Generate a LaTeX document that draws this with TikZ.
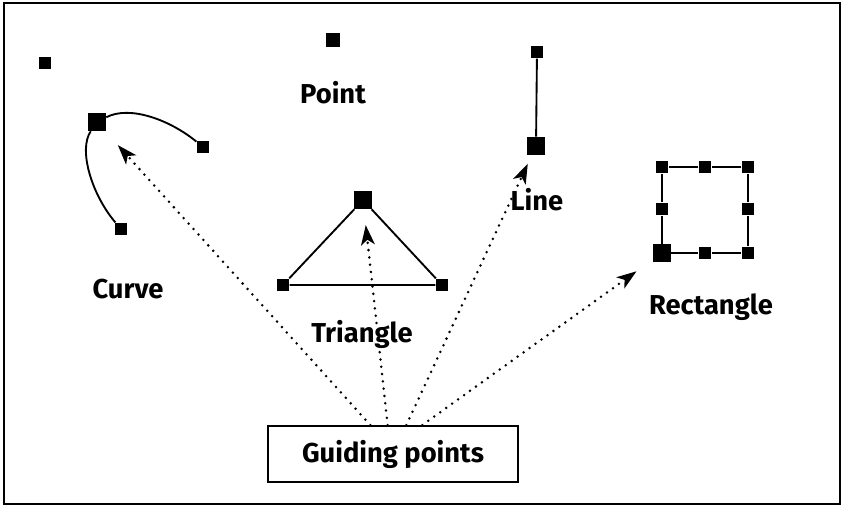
\documentclass[tikz,border=0pt]{standalone}
\usepackage{fontspec}
\setmainfont{Fira Sans}
\usepackage{tikz}
\usetikzlibrary{arrows.meta}
\tikzset{
    pt/.style={shape=rectangle, fill=black, inner sep=0pt, minimum size=9.5pt},
    bigpt/.style={pt, minimum size=13.5pt},
    lbl/.style={font=\fontsize{20.5}{24}\selectfont\bfseries},
    wire/.style={line width=1.4pt},
    guide/.style={line width=2.1pt, dash pattern=on 0pt off 5.5pt, line cap=round, -{Stealth[length=15pt,width=10.5pt,inset=4pt,line width=0pt]}}
}
\begin{document}
\begin{tikzpicture}[x=0.75pt,y=-0.75pt]
    	\useasboundingbox (0,0) rectangle (844,508);
    	\draw[line width=1.8pt] (4,3) rectangle (840,504);
    	% Points:
    	\node[pt](P0) at (45,63){};
    	\node[pt, minimum size=11pt](P1) at (333,40){};
    	\node[lbl] at (333,93){Point};
    	% Curve:
    	\node[bigpt](C0) at (97,122){};
    	\node[pt](C1) at (203,147){};
    	\node[pt](C2) at (121,229){};
    	\draw[wire] (C2) .. controls (92,195) and (78,150) .. (C0);
    	\draw[wire] (C0) .. controls (130,105) and (170,120) .. (C1);
    	\node[lbl] at (128,289){Curve};
    	% Triangle:
    	\node[bigpt](T0) at (363,200){};
    	\node[pt](T1) at (283,285){};
    	\node[pt](T2) at (442,285){};
    	\draw[wire] (T1) -- (T0) -- (T2) -- (T1);
    	\node[lbl] at (362,334){Triangle};
    	% Line:
    	\node[pt](L1) at (537,52){};
    	\node[bigpt](L0) at (536,146){};
    	\draw[wire] (L1) -- (L0);
    	\node[lbl] at (537,200){Line};
    	% Rectangle:
    	\node[bigpt](R0) at (662,253){};
    	\node[pt](R1) at (705,253){};
    	\node[pt](R2) at (748,253){};
    	\node[pt](R3) at (748,209){};
    	\node[pt](R4) at (748,167){};
    	\node[pt](R5) at (705,167){};
    	\node[pt](R6) at (662,167){};
    	\node[pt](R7) at (662,209){};
    	\draw[wire] (R0) -- (R1) -- (R2) -- (R3) -- (R4) -- (R5) -- (R6) -- (R7) -- (R0);
    	\node[lbl] at (711,307){Rectangle};
    	% Guiding points and arrows:
    	\node[draw, line width=1.4pt, minimum width=187.5pt, minimum height=42pt, lbl](GP) at (393,454){Guiding points};
    	\draw[guide, shorten >=14pt] ([xshift=-17pt]GP.north) -- (C0);
    	\draw[guide, shorten >=12pt] ([xshift=-4pt]GP.north) -- (T0);
    	\draw[guide, shorten >=7pt] ([xshift=10pt]GP.north) -- (L0);
    	\draw[guide, shorten >=15pt] ([xshift=22pt]GP.north) -- (R0);
    	\end{tikzpicture}
\end{document}
